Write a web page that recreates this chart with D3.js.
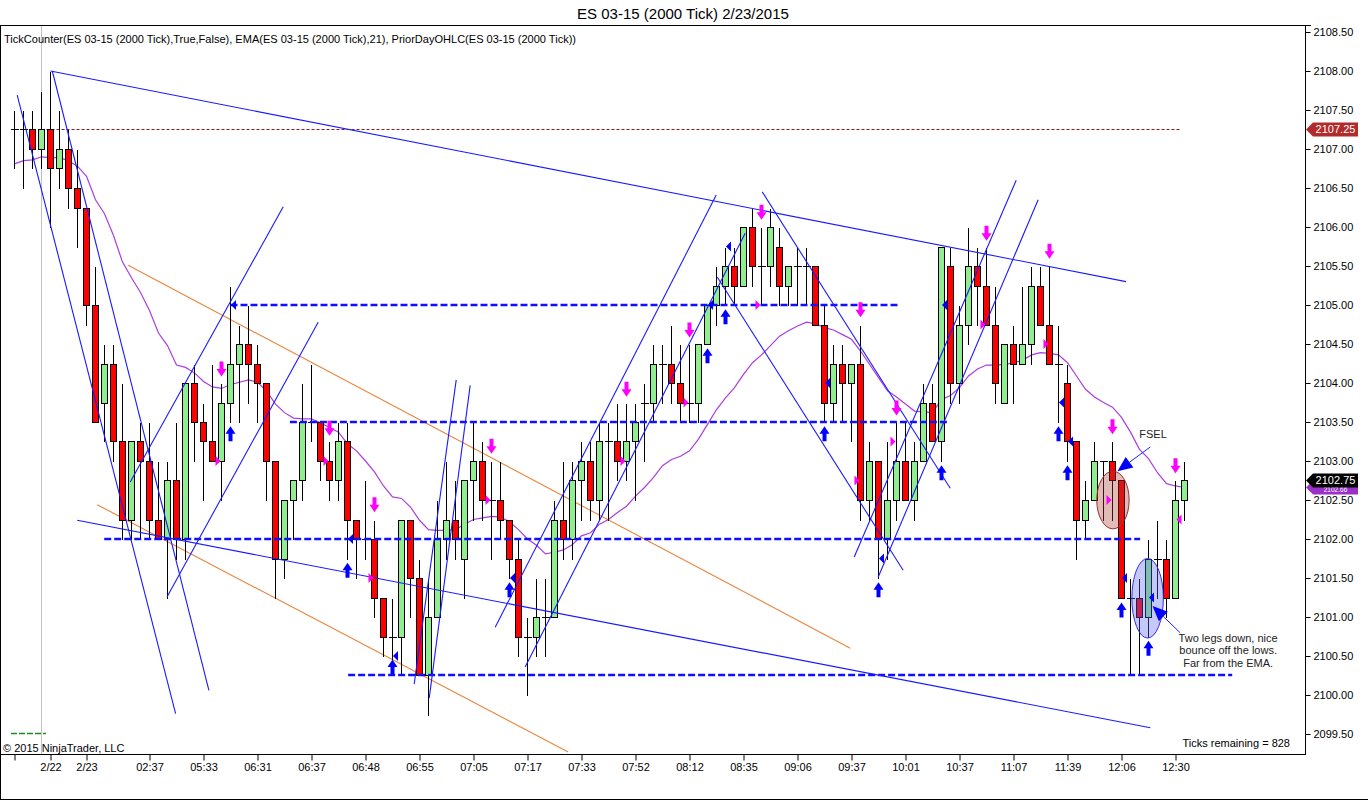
<!DOCTYPE html>
<html><head><meta charset="utf-8">
<script src="https://cdn.jsdelivr.net/npm/d3@7"></script>
<style>
body{margin:0;background:#fff}
svg{display:block}
text{font-family:"Liberation Sans",Arial,sans-serif}
</style>
</head><body>
<svg id="c" width="1368" height="800"></svg>
<script>
// ---------------- DATA ----------------
const chartTitle = "ES 03-15 (2000 Tick)  2/23/2015";
const indicatorLabel = "TickCounter(ES 03-15 (2000 Tick),True,False), EMA(ES 03-15 (2000 Tick),21), PriorDayOHLC(ES 03-15 (2000 Tick))";

const opens = [2107.25,2107.25,2107.25,2107.0,2107.25,2106.75,2107.0,2106.5,2106.25,2105.0,
2103.75,2104.25,2103.25,2102.25,2103.25,2103.0,2102.25,2102.0,2102.75,2102.0,
2104.0,2103.5,2103.25,2103.0,2103.75,2104.25,2104.5,2104.25,2104.0,2103.0,
2101.75,2102.5,2102.75,2103.5,2103.5,2103.0,2102.75,2103.25,2102.25,2102.0,
2102.0,2101.25,2100.75,2100.75,2102.25,2101.5,2100.25,2101.0,2102.0,2102.25,
2101.75,2102.75,2103.0,2102.5,2102.5,2102.25,2101.75,2100.75,2100.75,2101.0,
2101.0,2102.25,2102.0,2102.75,2103.0,2102.5,2103.25,2103.25,2103.0,2103.25,
2103.75,2103.75,2104.25,2104.25,2104.0,2103.75,2103.75,2104.5,2105.0,2105.25,
2105.5,2105.25,2106.0,2105.5,2105.5,2105.75,2105.25,2105.5,2105.5,2105.5,
2104.75,2103.75,2104.25,2104.0,2104.25,2102.5,2103.0,2102.0,2102.5,2103.0,
2102.5,2103.0,2103.75,2103.25,2105.5,2104.0,2104.75,2105.5,2105.25,2104.75,
2103.75,2104.5,2104.25,2104.5,2105.25,2104.75,2104.25,2104.0,2103.25,2102.25,
2102.5,2103.0,2103.0,2102.75,2101.25,2101.25,2101.0,2101.75,2101.75,2101.25,
2102.5];
const highs = [2107.5,2107.5,2107.5,2107.75,2108.0,2107.5,2107.25,2107.0,2106.25,2105.5,
2104.5,2104.5,2104.0,2103.25,2103.5,2103.5,2103.0,2103.0,2103.5,2104.0,
2104.25,2103.75,2104.25,2104.0,2105.25,2104.75,2105.0,2104.5,2104.0,2103.0,
2102.5,2102.75,2104.0,2104.25,2103.5,2103.25,2103.5,2103.5,2102.25,2102.75,
2102.25,2101.25,2101.25,2102.25,2102.25,2101.75,2101.5,2102.5,2103.0,2102.75,
2102.75,2103.5,2103.25,2103.0,2103.0,2102.25,2102.0,2101.0,2101.5,2101.5,
2102.5,2103.0,2103.0,2103.25,2103.25,2103.5,2103.5,2103.75,2103.75,2103.75,
2104.0,2104.5,2104.5,2104.75,2104.5,2104.5,2104.5,2105.0,2105.5,2105.75,
2105.75,2106.0,2106.25,2106.0,2106.25,2106.0,2105.5,2105.75,2105.75,2105.5,
2105.0,2104.5,2104.5,2104.25,2104.75,2103.25,2103.0,2103.25,2103.5,2103.5,
2103.25,2104.0,2104.0,2105.75,2105.75,2105.0,2106.0,2105.75,2105.75,2105.25,
2104.5,2104.75,2105.25,2105.5,2105.5,2105.5,2104.75,2104.25,2103.25,2102.75,
2103.25,2103.0,2103.25,2102.75,2101.5,2101.5,2102.0,2102.25,2102.0,2102.75,
2103.0];
const lows = [2106.75,2106.5,2106.75,2106.75,2106.0,2106.5,2106.25,2105.75,2104.75,2103.5,
2103.25,2103.0,2102.0,2102.0,2102.0,2102.0,2102.0,2101.25,2101.75,2101.75,
2103.0,2102.5,2103.0,2102.5,2103.5,2103.5,2103.75,2103.5,2102.5,2101.25,
2101.5,2102.0,2102.5,2103.25,2102.75,2102.5,2102.5,2101.75,2101.5,2101.75,
2101.0,2100.5,2100.25,2100.25,2101.0,2100.25,2099.75,2101.0,2101.75,2101.75,
2101.25,2102.25,2102.25,2101.75,2102.0,2101.5,2100.5,2100.0,2100.5,2100.5,
2101.0,2101.75,2101.75,2102.25,2102.25,2102.25,2102.25,2102.75,2102.75,2102.5,
2103.0,2103.5,2103.75,2103.75,2103.5,2103.5,2103.5,2104.5,2104.75,2105.0,
2105.0,2105.25,2105.25,2105.0,2105.25,2105.0,2105.0,2105.0,2105.0,2104.75,
2103.5,2103.5,2103.5,2103.25,2102.25,2102.25,2101.5,2101.75,2102.25,2102.5,
2102.25,2103.0,2103.25,2103.0,2103.75,2103.75,2104.5,2104.75,2104.75,2103.75,
2103.75,2103.75,2104.25,2104.25,2104.75,2104.25,2103.5,2103.0,2101.75,2102.0,
2102.5,2102.25,2102.25,2101.25,2100.25,2100.25,2100.75,2101.25,2101.0,2101.25,
2102.25];
const closes = [2107.25,2107.25,2107.0,2107.25,2106.75,2107.0,2106.5,2106.25,2105.0,2103.5,
2104.25,2103.25,2102.25,2103.25,2103.0,2102.25,2102.0,2102.75,2102.0,2104.0,
2103.5,2103.25,2103.0,2103.75,2104.25,2104.5,2104.25,2104.0,2103.0,2101.75,
2102.5,2102.75,2103.5,2103.5,2103.0,2102.75,2103.25,2102.25,2102.0,2102.0,
2101.25,2100.75,2100.75,2102.25,2101.5,2100.25,2101.0,2102.0,2102.25,2102.0,
2102.75,2103.0,2102.5,2102.5,2102.25,2101.75,2100.75,2100.75,2101.0,2101.0,
2102.25,2102.0,2102.75,2103.0,2102.5,2103.25,2103.25,2103.0,2103.25,2103.5,
2103.75,2104.25,2104.25,2104.0,2103.75,2103.75,2104.5,2105.0,2105.25,2105.5,
2105.25,2106.0,2105.5,2105.5,2106.0,2105.25,2105.5,2105.5,2105.5,2104.75,
2103.75,2104.25,2104.0,2104.25,2102.5,2103.0,2102.0,2102.5,2103.0,2102.5,
2103.0,2103.75,2103.25,2105.75,2104.0,2104.75,2105.5,2105.25,2104.75,2104.0,
2104.5,2104.25,2104.5,2105.25,2104.75,2104.25,2104.25,2103.25,2102.25,2102.5,
2103.0,2103.0,2102.75,2101.25,2101.25,2101.0,2101.75,2101.75,2101.25,2102.5,
2102.75];
// EMA(21) values
const ema21 = [2106.81,2106.85,2106.86,2106.9,2106.89,2106.89,2106.85,2106.78,2106.65,2106.35,
2106.17,2105.89,2105.55,2105.35,2105.16,2104.93,2104.64,2104.48,2104.23,2104.2,
2104.13,2104.02,2103.95,2103.93,2103.98,2104.01,2104.04,2104.01,2103.9,2103.73,
2103.62,2103.55,2103.54,2103.54,2103.49,2103.43,2103.37,2103.22,2103.13,2103.0,
2102.86,2102.68,2102.54,2102.52,2102.41,2102.24,2102.12,2102.11,2102.11,2102.12,
2102.19,2102.25,2102.27,2102.29,2102.28,2102.22,2102.12,2102.0,2101.92,2101.81,
2101.83,2101.86,2101.93,2102.04,2102.08,2102.19,2102.25,2102.34,2102.42,2102.55,
2102.66,2102.79,2102.94,2103.02,2103.06,2103.13,2103.28,2103.47,2103.66,2103.81,
2103.94,2104.11,2104.26,2104.36,2104.48,2104.6,2104.67,2104.73,2104.78,2104.76,
2104.71,2104.68,2104.62,2104.56,2104.41,2104.24,2104.07,2103.9,2103.82,2103.73,
2103.64,2103.63,2103.62,2103.79,2103.84,2103.94,2104.09,2104.18,2104.23,2104.23,
2104.24,2104.26,2104.29,2104.36,2104.39,2104.38,2104.36,2104.26,2104.09,2103.92,
2103.82,2103.75,2103.69,2103.56,2103.37,2103.15,2103.03,2102.85,2102.71,2102.68,
2102.66];

const xTickBars = [0,4,8,15,21,27,33,39,45,51,57,63,69,75,81,87,93,99,105,111,117,123,129];
const xTickLabels = ["","2/22","2/23","02:37","05:33","06:31","06:37","06:48","06:55","07:05","07:17","07:33","07:52","08:12","08:35","09:06","09:37","10:01","10:37","11:07","11:39","12:06","12:30"];
const yTickValues = [2099.5,2100.0,2100.5,2101.0,2101.5,2102.0,2102.5,2103.0,2103.5,2104.0,2104.5,2105.0,2105.5,2106.0,2106.5,2107.0,2107.5,2108.0,2108.5];

const sessionBreakBar = 3;
const priorDayClose = 2107.25;          // dotted line & red tag
const priorDaySpan = [3, 129.5];
const lastPrice = 2102.75;
const lastEma = 2102.66;

// signals [bar, price]
const downArrows = [[23,2104.18],[35,2103.42],[40,2102.44],[53,2103.19],[68,2103.92],[75,2104.68],[83,2106.19],[94,2104.94],[98,2103.68],[108,2105.92],[115,2105.69],[122,2103.44],[129,2102.94]];
const upArrows = [[24,2103.35],[37,2101.6],[42,2100.36],[55,2101.35],[77,2104.35],[79,2104.85],[90,2103.35],[96,2101.35],[103,2102.85],[116,2103.35],[117,2102.85],[123,2101.09],[126,2100.6]];
const blueLeftMarks = [[24,2105.0],[37,2102.0],[42,2100.5],[55,2101.5],[77,2105.0],[79,2105.75],[90,2104.0],[96,2101.75],[103,2105.0],[116,2103.75],[117,2103.25],[123,2101.5],[126,2101.25]];
const pinkRightMarks = [[23,2103.0],[35,2103.0],[40,2101.5],[53,2102.5],[68,2103.0],[75,2103.75],[83,2105.0],[94,2102.75],[98,2103.25],[108,2104.75],[115,2104.5],[122,2102.5]];
const pinkLeftMarks = [[129,2102.25]];

// drawn objects in chart units [bar1, price1, bar2, price2]
const blueTrendLines = [[4,2108.0,123.5,2105.3],[0.3,2107.69,17.9,2099.76],[4.2,2108.0,21.6,2100.06],
[6.97,2102.24,126.2,2099.58],[12.86,2102.73,29.86,2106.26],[16.96,2101.26,33.74,2104.78],
[44.41,2100.14,49.08,2104.04],[46.08,2099.96,50.63,2103.97],[53.41,2100.87,77.97,2106.41],
[56.74,2100.36,81.19,2105.92],[83.08,2106.45,103.97,2102.65],[78.08,2105.36,98.74,2101.6],
[93.3,2101.77,111.3,2106.6],[95.96,2101.51,113.74,2106.35]];
const orangeTrendLines = [[12.63,2105.51,92.86,2100.6],[9.19,2102.44,61.52,2099.27]];
// horizontal levels [price, fromBar, toBar]
const levelLines = [[2105.0,24,98.4],[2103.5,30.6,103.7],[2102.0,9.97,125.07],[2100.25,37.07,135.3]];
// ellipses [centerBar, centerPrice, radiusBars, radiusPrice]
const ellipses = [[122.05,2102.5,1.8,0.37],[125.9,2101.24,1.75,0.51]];
// notes
const noteTexts = [["FSEL"],["Two legs down, nice","bounce off the lows.","Far from the EMA."]];
const notePos = [[126.5,2103.35],[134.85,2100.73]];
const noteArrows = [[126.2,2103.18,122.55,2102.87],[129.5,2100.8,126.45,2101.14]];

// ---------------- DRAW ----------------
const W = 1368, H = 800;
const plotL = 0, plotR = 1305, plotT = 25, plotB = 754;
const svg = d3.select("#c");
const x = d3.scaleLinear().domain([0,130]).range([14.5,1184.5]);
const y = d3.scaleLinear().domain([2099.5,2108.5]).range([734,32]);
const py = v => Math.round(y(v)) + 0.5;
const px = v => Math.round(x(v) - 0.5) + 0.5;

svg.append("rect").attr("width",W).attr("height",H).attr("fill","#fff");

svg.append("defs").append("clipPath").attr("id","plot")
  .append("rect").attr("x",plotL).attr("y",plotT).attr("width",plotR-plotL).attr("height",plotB-plotT);

// title
svg.append("text").attr("x",683).attr("y",19).attr("text-anchor","middle")
  .attr("font-size",15).attr("fill","#000").text(chartTitle);

const g = svg.append("g").attr("clip-path","url(#plot)");

// session break
g.append("line").attr("x1",px(sessionBreakBar)).attr("x2",px(sessionBreakBar))
  .attr("y1",plotT).attr("y2",plotB).attr("stroke","#c0c0c0").attr("stroke-width",1);

// prior day close dotted line
g.append("line").attr("x1",x(priorDaySpan[0])).attr("x2",x(priorDaySpan[1]))
  .attr("y1",py(priorDayClose)).attr("y2",py(priorDayClose))
  .attr("stroke","#8b1a1a").attr("stroke-dasharray","3,2").attr("stroke-width",1);

// orange lines
g.selectAll(".ol").data(orangeTrendLines).join("line")
  .attr("x1",d=>x(d[0])).attr("y1",d=>y(d[1])).attr("x2",d=>x(d[2])).attr("y2",d=>y(d[3]))
  .attr("stroke","#e8853d").attr("stroke-width",1.1);

// EMA
g.append("path").datum(ema21)
  .attr("d",d3.line().x((d,i)=>x(i)).y(d=>y(d)))
  .attr("fill","none").attr("stroke","#a93ee0").attr("stroke-width",1.2);

// candles
const bars = d3.range(opens.length);
const cg = g.append("g").attr("shape-rendering","crispEdges");
cg.selectAll(".wick").data(bars).join("line")
  .attr("x1",i=>px(i)).attr("x2",i=>px(i))
  .attr("y1",i=>py(highs[i])).attr("y2",i=>py(lows[i]))
  .attr("stroke","#000").attr("stroke-width",1);
cg.selectAll(".body").data(bars.filter(i=>opens[i]!==closes[i])).join("rect")
  .attr("x",i=>px(i)-3).attr("width",6)
  .attr("y",i=>py(Math.max(opens[i],closes[i])))
  .attr("height",i=>py(Math.min(opens[i],closes[i]))-py(Math.max(opens[i],closes[i])))
  .attr("fill",i=>closes[i]>opens[i]?"#90ee90":"#ff0000")
  .attr("stroke","#000").attr("stroke-width",1);
cg.selectAll(".doji").data(bars.filter(i=>opens[i]===closes[i])).join("line")
  .attr("x1",i=>px(i)-4).attr("x2",i=>px(i)+4)
  .attr("y1",i=>py(opens[i])).attr("y2",i=>py(opens[i]))
  .attr("stroke","#000").attr("stroke-width",1);

// horizontal dashed levels
g.selectAll(".lv").data(levelLines).join("line")
  .attr("x1",d=>x(d[1])).attr("x2",d=>x(d[2]))
  .attr("y1",d=>Math.round(y(d[0]))).attr("y2",d=>Math.round(y(d[0])))
  .attr("stroke","#1010ff").attr("stroke-width",2.6).attr("stroke-dasharray","7,3");

// blue trend lines
g.selectAll(".bl").data(blueTrendLines).join("line")
  .attr("x1",d=>x(d[0])).attr("y1",d=>y(d[1])).attr("x2",d=>x(d[2])).attr("y2",d=>y(d[3]))
  .attr("stroke","#1a1aff").attr("stroke-width",1.1);

// ellipses
const ellStyle = [{f:"rgba(165,60,50,0.35)",s:"#a0302a"},{f:"rgba(90,100,240,0.35)",s:"#3030e0"}];
g.selectAll(".el").data(ellipses).join("ellipse")
  .attr("cx",d=>x(d[0])).attr("cy",d=>y(d[1]))
  .attr("rx",d=>x(d[2])-x(0))
  .attr("ry",d=>Math.abs(y(d[1]+d[3])-y(d[1])))
  .attr("fill",(d,i)=>ellStyle[i].f).attr("stroke",(d,i)=>ellStyle[i].s).attr("stroke-width",1);

// signal markers
const arrowDown = (cx,cy)=>`M${cx-2},${cy-7.5}L${cx+2},${cy-7.5}L${cx+2},${cy}L${cx+5},${cy}L${cx},${cy+7.5}L${cx-5},${cy}L${cx-2},${cy}Z`;
const arrowUp = (cx,cy)=>`M${cx-2},${cy+7.5}L${cx+2},${cy+7.5}L${cx+2},${cy}L${cx+5},${cy}L${cx},${cy-7.5}L${cx-5},${cy}L${cx-2},${cy}Z`;
g.selectAll(".da").data(downArrows).join("path")
  .attr("d",d=>arrowDown(x(d[0]),y(d[1]))).attr("fill","#ff00ff");
g.selectAll(".ua").data(upArrows).join("path")
  .attr("d",d=>arrowUp(x(d[0]),y(d[1]))).attr("fill","#0000ff");
g.selectAll(".blm").data(blueLeftMarks).join("path")
  .attr("d",d=>{const cx=x(d[0])+0.5, cy=y(d[1]);return `M${cx},${cy}L${cx+5},${cy-5}L${cx+5},${cy+5}Z`;})
  .attr("fill","#0000ff");
g.selectAll(".prm").data(pinkRightMarks).join("path")
  .attr("d",d=>{const cx=x(d[0])-1, cy=y(d[1]);return `M${cx},${cy}L${cx-5},${cy-5}L${cx-5},${cy+5}Z`;})
  .attr("fill","#ff00ff");
g.selectAll(".plm").data(pinkLeftMarks).join("path")
  .attr("d",d=>{const cx=x(d[0])+1, cy=y(d[1]);return `M${cx},${cy}L${cx+5},${cy-5}L${cx+5},${cy+5}Z`;})
  .attr("fill","#ff00ff");

// note arrows
noteArrows.forEach(a=>{
  const x1=x(a[0]), y1=y(a[1]), x2=x(a[2]), y2=y(a[3]);
  const ang=Math.atan2(y2-y1,x2-x1), L=15, Wd=6.5;
  const bx=x2-L*Math.cos(ang), by=y2-L*Math.sin(ang);
  g.append("line").attr("x1",x1).attr("y1",y1).attr("x2",bx).attr("y2",by)
    .attr("stroke","#2020ff").attr("stroke-width",1);
  g.append("path").attr("d",`M${x2},${y2}L${bx+Wd*Math.sin(ang)},${by-Wd*Math.cos(ang)}L${bx-Wd*Math.sin(ang)},${by+Wd*Math.cos(ang)}Z`)
    .attr("fill","#0000ff");
});
// note texts
noteTexts.forEach((lines,k)=>{
  const t = g.append("text").attr("x",x(notePos[k][0])).attr("y",y(notePos[k][1]))
    .attr("text-anchor","middle").attr("font-size",11).attr("fill","#222");
  lines.forEach((s,j)=>t.append("tspan").attr("x",x(notePos[k][0])).attr("dy",j===0?"0.35em":"12.5").text(s));
});

// plot frame
svg.append("line").attr("x1",0).attr("x2",plotR).attr("y1",plotT+0.5).attr("y2",plotT+0.5).attr("stroke","#000");
svg.append("line").attr("x1",0.5).attr("x2",0.5).attr("y1",plotT).attr("y2",H).attr("stroke","#000");
svg.append("line").attr("x1",0).attr("x2",W).attr("y1",H-0.5).attr("y2",H-0.5).attr("stroke","#000");

// indicator label
svg.append("text").attr("x",4).attr("y",43).attr("font-size",11).attr("fill","#000")
  .attr("textLength",572).attr("lengthAdjust","spacingAndGlyphs").text(indicatorLabel);

// bottom texts
svg.append("line").attr("x1",11).attr("x2",46).attr("y1",733.5).attr("y2",733.5)
  .attr("stroke","#1f8a1f").attr("stroke-width",1.3).attr("stroke-dasharray","6,2");
svg.append("text").attr("x",3).attr("y",752).attr("font-size",11).attr("fill","#000").text("\u00a9 2015 NinjaTrader, LLC");
svg.append("text").attr("x",1290).attr("y",747).attr("text-anchor","end").attr("font-size",11).attr("fill","#000").text("Ticks remaining = 828");

// right axis
const yAxis = d3.axisRight(y).tickValues(yTickValues).tickFormat(d3.format(".2f")).tickSize(5).tickPadding(3);
const ya = svg.append("g").attr("transform",`translate(${plotR+0.5},0)`).call(yAxis);
ya.select(".domain").remove();
ya.selectAll("text").attr("font-size",11).attr("font-family","Liberation Sans, Arial, sans-serif").attr("fill","#000");
ya.selectAll("line").attr("stroke","#000");
svg.append("line").attr("x1",plotR+0.5).attr("x2",plotR+0.5).attr("y1",plotT).attr("y2",plotB).attr("stroke","#000");
svg.append("line").attr("x1",plotR).attr("x2",plotR+6).attr("y1",plotT+0.5).attr("y2",plotT+0.5).attr("stroke","#000");

// bottom axis
const xAxis = d3.axisBottom(x).tickValues(xTickBars).tickFormat((d,i)=>xTickLabels[i]).tickSize(6).tickPadding(3);
const xa = svg.append("g").attr("transform",`translate(0,${plotB+0.5})`).call(xAxis);
xa.select(".domain").remove();
xa.selectAll("text").attr("font-size",11).attr("font-family","Liberation Sans, Arial, sans-serif").attr("fill","#000");
xa.selectAll("line").attr("stroke","#000");
svg.append("line").attr("x1",0).attr("x2",plotR+1).attr("y1",plotB+0.5).attr("y2",plotB+0.5).attr("stroke","#000");

// price tags
function tag(cy, fill, label, fs, ty){
  const x0 = plotR+1, x1 = plotR+8, x2 = 1358, h = 7;
  svg.append("path").attr("d",`M${x0},${cy}L${x1},${cy-h}L${x2},${cy-h}L${x2},${cy+h}L${x1},${cy+h}Z`).attr("fill",fill);
  svg.append("text").attr("x",(x1+x2)/2).attr("y",ty).attr("text-anchor","middle")
    .attr("font-size",fs).attr("fill","#fff").text(label);
}
const yLast = y(lastPrice);
tag(y(priorDayClose),"#b22a2a",d3.format(".2f")(priorDayClose),11,y(priorDayClose)+3.6);
// EMA tag sits just under the last-price tag (mostly hidden in the original)
tag(yLast+7,"#9a30c8",d3.format(".2f")(lastEma),6.5,yLast+11.8);
tag(yLast,"#000",d3.format(".2f")(lastPrice),11,yLast+3.5);
</script>
</body></html>
